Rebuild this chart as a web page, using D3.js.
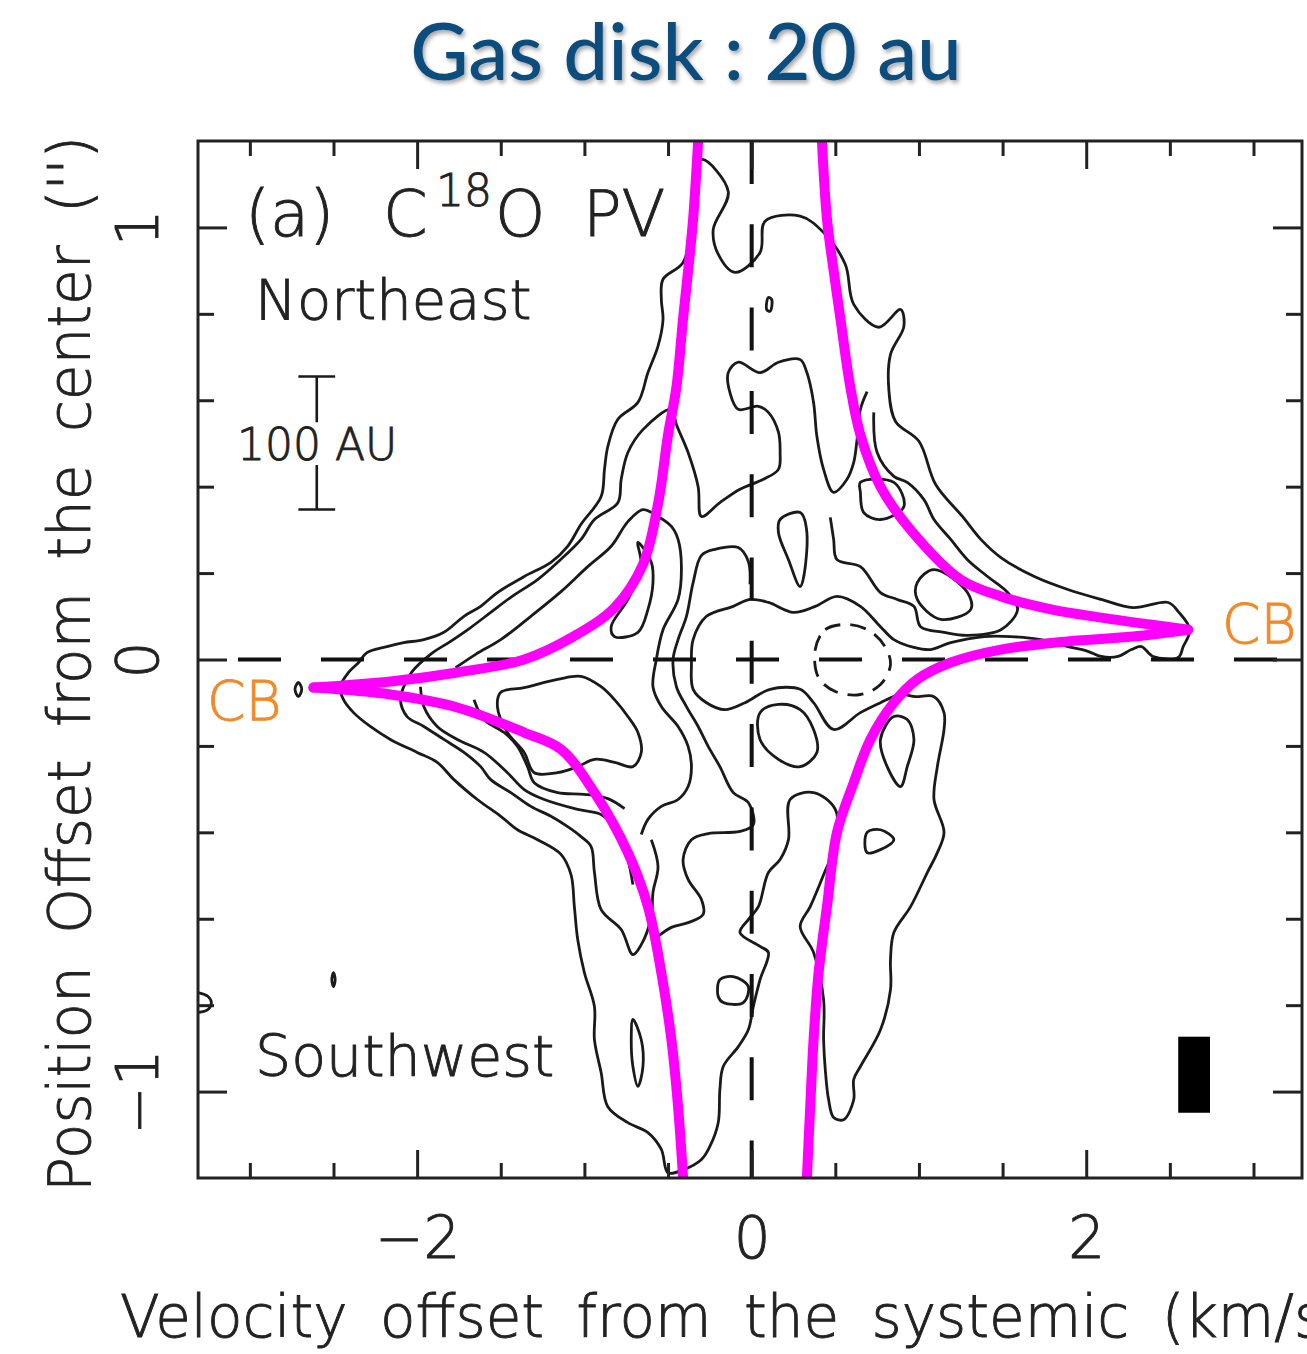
<!DOCTYPE html>
<html>
<head>
<meta charset="utf-8">
<script src="https://cdn.jsdelivr.net/npm/d3@7"></script>
<style>
  body { margin: 0; background: #ffffff; }
  svg { display: block; }
</style>
</head>
<body>
<svg id="chart" width="1307" height="1354"></svg>
<script>
// ---- axis ticks -------------------------------------------------------
const velMajorTicks = [-2, 0, 2];
const velMinorTicks = [-3, -2.5, -1.5, -1, -0.5, 0.5, 1, 1.5, 2.5, 3];
const posMajorTicks = [-1, 0, 1];
const posMinorTicks = [-0.8, -0.6, -0.4, -0.2, 0.2, 0.4, 0.6, 0.8];

// ---- C18O PV contours: [velocity km/s, offset arcsec] -----------------
// lowest contour level, including the low-emission notch around the centre
const contourOuter = [
  [-0.30,1.157],[-0.14,1.083],[-0.23,0.995],[-0.20,0.938],[-0.10,0.896],[0.05,0.942],[0.08,1.014],
  [0.29,1.026],[0.43,0.988],[0.56,0.914],[0.61,0.822],[0.76,0.769],[0.89,0.810],[0.91,0.771],
  [0.83,0.706],[0.82,0.625],[0.86,0.551],[1.00,0.505],[1.10,0.405],[1.26,0.331],[1.37,0.278],
  [1.49,0.236],[1.69,0.192],[1.89,0.162],[2.09,0.139],[2.28,0.120],[2.49,0.132],[2.55,0.111],
  [2.62,0.069],[2.58,0.030],[2.55,0.005],[2.40,0.007],[2.33,0.030],[2.27,0.023],[2.19,0.007],
  [2.09,0.007],[2.01,0.019],[1.89,0.030],[1.73,0.046],[1.55,0.053],[1.39,0.053],[1.19,0.039],
  [1.07,0.023],[0.97,0.028],[0.85,0.046],[0.77,0.076],[0.65,0.123],[0.51,0.146],[0.38,0.123],
  [0.25,0.109],[0.10,0.132],[-0.01,0.139],[-0.11,0.123],[-0.27,0.100],[-0.35,0.046],[-0.36,-0.012],
  [-0.35,-0.069],[-0.27,-0.100],[-0.16,-0.116],[-0.04,-0.100],[0.11,-0.069],[0.29,-0.069],
  [0.37,-0.100],[0.49,-0.162],[0.65,-0.123],[0.77,-0.100],[0.89,-0.081],[0.98,-0.086],[1.09,-0.086],
  [1.15,-0.123],[1.15,-0.162],[1.11,-0.248],[1.09,-0.324],[1.15,-0.400],[1.11,-0.447],[1.05,-0.493],
  [0.95,-0.572],[0.85,-0.632],[0.83,-0.694],[0.83,-0.764],[0.77,-0.857],[0.65,-0.942],[0.61,-0.972],
  [0.61,-1.019],[0.55,-1.065],[0.49,-1.060],[0.46,-1.019],[0.44,-0.949],[0.43,-0.880],[0.43,-0.787],
  [0.37,-0.678],[0.29,-0.618],[0.35,-0.572],[0.43,-0.498],[0.50,-0.428],[0.50,-0.347],[0.37,-0.308],
  [0.23,-0.324],[0.22,-0.417],[0.17,-0.463],[0.10,-0.493],[0.04,-0.572],[-0.02,-0.602],[-0.07,-0.632],
  [0.05,-0.664],[0.10,-0.678],[0.05,-0.741],[0.01,-0.803],[-0.02,-0.857],[-0.08,-0.896],[-0.17,-0.942],
  [-0.19,-0.995],[-0.20,-1.072],[-0.25,-1.127],[-0.30,-1.157],[-0.41,-1.181],[-0.50,-1.188],
  [-0.54,-1.134],[-0.62,-1.095],[-0.74,-1.072],[-0.86,-1.035],[-0.90,-0.956],[-0.94,-0.880],
  [-0.94,-0.803],[-1.00,-0.725],[-1.04,-0.648],[-1.06,-0.572],[-1.08,-0.498],[-1.14,-0.451],
  [-1.28,-0.417],[-1.40,-0.394],[-1.50,-0.363],[-1.64,-0.324],[-1.78,-0.278],[-1.88,-0.238],
  [-2.00,-0.215],[-2.16,-0.185],[-2.28,-0.155],[-2.38,-0.123],[-2.44,-0.093],[-2.46,-0.063],
  [-2.41,-0.030],[-2.35,-0.007],[-2.30,0.016],[-2.18,0.030],[-2.08,0.039],[-1.96,0.046],[-1.84,0.063],
  [-1.72,0.100],[-1.62,0.123],[-1.52,0.155],[-1.36,0.192],[-1.20,0.225],[-1.10,0.262],[-1.02,0.313],
  [-0.90,0.377],[-0.88,0.440],[-0.86,0.493],[-0.80,0.556],[-0.68,0.595],[-0.62,0.664],[-0.56,0.725],
  [-0.53,0.787],[-0.54,0.833],[-0.53,0.880],[-0.41,0.919],[-0.35,1.019]
];

// closed inner contours
const contourIslands = [
  [[0.99,0.178],[1.09,0.208],[1.29,0.155],[1.31,0.116],[1.13,0.093],[0.99,0.139]],
  [[0.65,0.410],[0.85,0.410],[0.91,0.354],[0.77,0.324],[0.67,0.340],[0.65,0.387]],
  [[0.17,0.324],[0.29,0.340],[0.33,0.294],[0.29,0.169],[0.22,0.231],[0.16,0.294]],
  [[0.05,-0.123],[0.16,-0.104],[0.29,-0.116],[0.37,-0.162],[0.39,-0.215],[0.29,-0.248],[0.16,-0.231],[0.05,-0.185]],
  [[0.77,-0.185],[0.85,-0.132],[0.93,-0.139],[0.97,-0.185],[0.93,-0.248],[0.89,-0.294],[0.81,-0.248]],
  [[0.69,-0.400],[0.77,-0.394],[0.85,-0.417],[0.77,-0.440],[0.69,-0.447]],
  [[-0.19,-0.741],[-0.11,-0.734],[-0.02,-0.757],[-0.05,-0.794],[-0.17,-0.794],[-0.20,-0.780]],
  [[-0.71,-0.833],[-0.66,-0.880],[-0.65,-0.942],[-0.68,-0.988],[-0.71,-0.942],[-0.72,-0.880]],
  [[-1.50,-0.076],[-1.36,-0.065],[-1.16,-0.046],[-1.02,-0.039],[-0.90,-0.063],[-0.82,-0.093],
   [-0.74,-0.132],[-0.68,-0.169],[-0.66,-0.215],[-0.71,-0.248],[-0.82,-0.238],[-0.94,-0.231],
   [-1.04,-0.248],[-1.16,-0.262],[-1.30,-0.262],[-1.36,-0.215],[-1.46,-0.169],[-1.52,-0.109]],
  [[-0.68,0.271],[-0.60,0.225],[-0.59,0.178],[-0.62,0.116],[-0.68,0.063],[-0.82,0.053],[-0.84,0.076],[-0.74,0.139],[-0.66,0.215]],
  [[0.10,0.838],[0.12,0.833],[0.11,0.806],[0.09,0.810]],
  [[-2.71,-0.053],[-2.69,-0.069],[-2.71,-0.086],[-2.73,-0.069]],
  [[-2.50,-0.725],[-2.49,-0.741],[-2.50,-0.757],[-2.51,-0.741]]
];

// open contour runs of the higher levels (their ends pass under the curves)
const contourSegments = [
  // second level: lower column, south-west wing, north-east arm and the top lobe
  [[-0.60,-0.417],[-0.56,-0.479],[-0.59,-0.539],[-0.60,-0.595],[-0.66,-0.660],[-0.71,-0.683],
   [-0.78,-0.625],[-0.90,-0.579],[-0.94,-0.493],[-0.96,-0.433],[-1.02,-0.410],[-1.10,-0.387],
   [-1.20,-0.363],[-1.32,-0.340],[-1.44,-0.308],[-1.56,-0.278],[-1.62,-0.248],[-1.72,-0.215],
   [-1.84,-0.185],[-1.96,-0.155],[-2.06,-0.132],[-2.10,-0.093],[-2.08,-0.063],[-2.03,-0.028],
   [-1.92,0.012],[-1.80,0.042],[-1.68,0.074],[-1.56,0.109],[-1.44,0.144],[-1.28,0.185],
   [-1.16,0.225],[-1.02,0.278],[-0.94,0.324],[-0.80,0.363],[-0.78,0.417],[-0.74,0.479],
   [-0.65,0.532],[-0.48,0.579],[-0.45,0.544],[-0.38,0.479],[-0.32,0.400],[-0.30,0.331],
   [-0.19,0.363],[-0.07,0.394],[0.07,0.417],[0.16,0.440],[0.17,0.479],[0.16,0.526],[0.10,0.572],
   [0.04,0.586],[-0.08,0.579],[-0.13,0.618],[-0.14,0.664],[-0.08,0.688],[0.05,0.664],[0.16,0.688],
   [0.29,0.694],[0.33,0.664],[0.37,0.595],[0.39,0.516],[0.43,0.440],[0.49,0.387],[0.57,0.417],
   [0.61,0.456],[0.63,0.509],[0.65,0.579],[0.69,0.620]],
  // second level: north-east wing out to its tip
  [[0.73,0.572],[0.75,0.479],[0.85,0.424],[0.93,0.410],[1.03,0.370],[1.09,0.324],[1.19,0.278],
   [1.29,0.231],[1.41,0.192],[1.53,0.155],[1.59,0.116],[1.49,0.069],[1.29,0.056],[1.15,0.063],
   [1.01,0.076],[0.97,0.123],[0.87,0.139],[0.77,0.155],[0.65,0.215],[0.51,0.231],[0.49,0.278],[0.47,0.329]],
  // south-west wing, inner levels
  [[-1.98,-0.063],[-1.96,-0.109],[-1.88,-0.155],[-1.76,-0.185],[-1.60,-0.215],[-1.46,-0.262],
   [-1.36,-0.301],[-1.24,-0.324],[-1.04,-0.347],[-0.90,-0.359],[-0.80,-0.400],[-0.74,-0.463],[-0.71,-0.521]],
  [[-1.66,-0.093],[-1.60,-0.139],[-1.48,-0.169],[-1.40,-0.201],[-1.34,-0.248],[-1.30,-0.285],
   [-1.16,-0.308],[-1.00,-0.312],[-0.86,-0.322],[-0.76,-0.345]],
  // inner level along the north-west side and down the west of the centre
  [[-1.77,-0.019],[-1.65,0.012],[-1.50,0.046],[-1.32,0.100],[-1.14,0.157],[-0.98,0.215],[-0.84,0.262],
   [-0.74,0.319],[-0.65,0.347],[-0.56,0.331],[-0.48,0.308],[-0.44,0.278],[-0.42,0.215],[-0.44,0.139],
   [-0.53,0.069],[-0.57,0.000],[-0.59,-0.063],[-0.54,-0.109],[-0.44,-0.155],[-0.38,-0.201],
   [-0.36,-0.248],[-0.38,-0.294],[-0.44,-0.324],[-0.54,-0.340],[-0.62,-0.370],[-0.66,-0.405]],
  // lowest level west of the systemic velocity
  [[-0.01,0.174],[-0.02,0.227],[-0.08,0.259],[-0.22,0.255],[-0.30,0.241],[-0.35,0.178],[-0.39,0.100],
   [-0.44,0.046],[-0.47,0.000],[-0.45,-0.063],[-0.39,-0.109],[-0.32,-0.155],[-0.26,-0.201],
   [-0.19,-0.248],[-0.11,-0.308],[-0.02,-0.331],[0.01,-0.382],[-0.07,-0.398],[-0.26,-0.403],
   [-0.36,-0.417],[-0.41,-0.463],[-0.38,-0.509],[-0.30,-0.556],[-0.29,-0.590],[-0.38,-0.609],
   [-0.48,-0.620],[-0.56,-0.641]],
  // small feature at the western edge
  [[-3.31,-0.771],[-3.25,-0.780],[-3.23,-0.794],[-3.25,-0.810],[-3.31,-0.817]]
];

// negative contour, drawn dashed
const contourNegative = [
  [0.38,0.023],[0.44,0.069],[0.58,0.081],[0.71,0.065],[0.80,0.028],[0.83,-0.012],
  [0.77,-0.058],[0.65,-0.081],[0.50,-0.074],[0.40,-0.042]
];

// ---- rotation curves (magenta), each branch runs to its CB cusp ---------
const curveUpperLeft = [
  [-0.32,1.20],[-0.35,1.02],[-0.38,0.90],[-0.41,0.79],[-0.45,0.63],[-0.50,0.52],[-0.56,0.36],
  [-0.65,0.22],[-0.82,0.12],[-1.08,0.05],[-1.36,0.0],[-1.76,-0.030],[-2.16,-0.051],[-2.62,-0.065]
];
const curveLowerLeft = [
  [-2.62,-0.065],[-2.16,-0.081],[-1.76,-0.111],[-1.36,-0.169],[-1.14,-0.208],[-0.94,-0.308],
  [-0.74,-0.447],[-0.62,-0.572],[-0.54,-0.725],[-0.48,-0.880],[-0.44,-1.035],[-0.41,-1.20]
];
const curveUpperRight = [
  [0.42,1.20],[0.45,1.02],[0.49,0.90],[0.53,0.79],[0.59,0.63],[0.65,0.52],[0.77,0.40],[0.95,0.30],
  [1.25,0.185],[1.49,0.146],[1.79,0.116],[2.09,0.097],[2.38,0.081],[2.61,0.069]
];
const curveLowerRight = [
  [2.61,0.069],[2.28,0.053],[1.89,0.042],[1.49,0.023],[1.19,-0.007],[0.99,-0.046],[0.85,-0.100],
  [0.71,-0.185],[0.61,-0.285],[0.51,-0.400],[0.45,-0.572],[0.40,-0.725],[0.37,-0.880],[0.35,-1.035],[0.33,-1.20]
];

// ---- annotations in data units ----------------------------------------
const scaleBar = { vel: -2.60, top: 0.655, bottom: 0.347, gapTop: 0.549, gapBottom: 0.450, halfWidth: 0.11 };
const beam = { vel: 2.645, pos: -0.961, width: 0.19, height: 0.176 };

// ---- layout ------------------------------------------------------------
const plot = { left: 198, right: 1302, top: 141, bottom: 1178 };
const svg = d3.select("#chart");
const x = d3.scaleLinear().domain([-3.31, 3.29]).range([plot.left, plot.right]);
const y = d3.scaleLinear().domain([-1.2, 1.2]).range([plot.bottom, plot.top]);
const plotFont = "'DejaVu Sans', 'Liberation Sans', sans-serif";
const ink = "#1a1a1a";
const textInk = "#222";

// light, monoline lettering for the panel text
function thinText(sel, color) {
  return sel.attr("font-family", plotFont).attr("font-weight", 200)
    .attr("fill", color).attr("stroke", color).attr("stroke-width", 0.9);
}

const defs = svg.append("defs");
defs.append("clipPath").attr("id", "plotClip")
  .append("rect").attr("x", plot.left).attr("y", plot.top)
  .attr("width", plot.right - plot.left).attr("height", plot.bottom - plot.top);
const shadow = defs.append("filter").attr("id", "titleShadow")
  .attr("x", "-10%").attr("y", "-20%").attr("width", "130%").attr("height", "160%");
shadow.append("feDropShadow").attr("dx", 2).attr("dy", 3).attr("stdDeviation", 2.2)
  .attr("flood-color", "#000").attr("flood-opacity", 0.35);

// title
svg.append("text")
  .attr("x", 686).attr("y", 80)
  .attr("text-anchor", "middle")
  .attr("font-family", "Lato, 'Open Sans', sans-serif")
  .attr("font-weight", 500)
  .attr("font-size", 80)
  .attr("fill", "#114d7d")
  .attr("filter", "url(#titleShadow)")
  .text("Gas disk : 20 au");

const plotG = svg.append("g").attr("clip-path", "url(#plotClip)");

// contours
const closedLine = d3.line().x(d => x(d[0])).y(d => y(d[1])).curve(d3.curveCatmullRomClosed.alpha(0.5));
const openLine = d3.line().x(d => x(d[0])).y(d => y(d[1])).curve(d3.curveCatmullRom.alpha(0.5));
const cw = 2.8;

plotG.append("path").datum(contourOuter)
  .attr("d", closedLine).attr("fill", "none").attr("stroke", ink).attr("stroke-width", cw);
plotG.selectAll("path.island").data(contourIslands).join("path").attr("class", "island")
  .attr("d", closedLine).attr("fill", "none").attr("stroke", ink).attr("stroke-width", cw);
plotG.selectAll("path.segment").data(contourSegments).join("path").attr("class", "segment")
  .attr("d", openLine).attr("fill", "none").attr("stroke", ink).attr("stroke-width", cw);
plotG.append("path").datum(contourNegative)
  .attr("d", closedLine).attr("fill", "none").attr("stroke", ink).attr("stroke-width", cw)
  .attr("stroke-dasharray", "16 10");

// systemic velocity and centre position reference lines
plotG.append("line")
  .attr("x1", x(-3.31)).attr("x2", x(3.29)).attr("y1", y(0)).attr("y2", y(0))
  .attr("stroke", "#111").attr("stroke-width", 4)
  .attr("stroke-dasharray", "43 40").attr("stroke-dashoffset", 43);
plotG.append("line")
  .attr("x1", x(0)).attr("x2", x(0)).attr("y1", y(1.2)).attr("y2", y(-1.2))
  .attr("stroke", "#111").attr("stroke-width", 4)
  .attr("stroke-dasharray", "43 40.3");

// beam
plotG.append("rect")
  .attr("x", x(beam.vel - beam.width / 2)).attr("y", y(beam.pos + beam.height / 2))
  .attr("width", x(beam.vel + beam.width / 2) - x(beam.vel - beam.width / 2))
  .attr("height", y(beam.pos - beam.height / 2) - y(beam.pos + beam.height / 2))
  .attr("fill", "#000");

// 100 AU scale bar
const sb = svg.append("g").attr("stroke", ink).attr("stroke-width", 2.6);
sb.append("line").attr("x1", x(scaleBar.vel)).attr("x2", x(scaleBar.vel)).attr("y1", y(scaleBar.top)).attr("y2", y(scaleBar.gapTop));
sb.append("line").attr("x1", x(scaleBar.vel)).attr("x2", x(scaleBar.vel)).attr("y1", y(scaleBar.gapBottom)).attr("y2", y(scaleBar.bottom));
sb.append("line").attr("x1", x(scaleBar.vel - scaleBar.halfWidth)).attr("x2", x(scaleBar.vel + scaleBar.halfWidth)).attr("y1", y(scaleBar.top)).attr("y2", y(scaleBar.top));
sb.append("line").attr("x1", x(scaleBar.vel - scaleBar.halfWidth)).attr("x2", x(scaleBar.vel + scaleBar.halfWidth)).attr("y1", y(scaleBar.bottom)).attr("y2", y(scaleBar.bottom));

// magenta rotation curves
const curveLine = d3.line().x(d => x(d[0])).y(d => y(d[1])).curve(d3.curveCatmullRom.alpha(0.5));
plotG.selectAll("path.rot").data([curveUpperLeft, curveLowerLeft, curveUpperRight, curveLowerRight])
  .join("path").attr("class", "rot")
  .attr("d", curveLine).attr("fill", "none")
  .attr("stroke", "#ff00ff").attr("stroke-width", 10).attr("stroke-linecap", "round").attr("stroke-linejoin", "round");

// frame
svg.append("rect")
  .attr("x", plot.left).attr("y", plot.top)
  .attr("width", plot.right - plot.left).attr("height", plot.bottom - plot.top)
  .attr("fill", "none").attr("stroke", "#222").attr("stroke-width", 3);

// inward ticks on all four sides
function ticks(axisGen, values, size, transform) {
  const g = svg.append("g").attr("transform", transform)
    .call(axisGen.tickValues(values).tickSize(size).tickFormat(""));
  g.select(".domain").remove();
  g.selectAll(".tick line").attr("stroke", "#222").attr("stroke-width", 3);
}
ticks(d3.axisTop(x), velMajorTicks, 28, `translate(0,${plot.bottom})`);
ticks(d3.axisTop(x), velMinorTicks, 15, `translate(0,${plot.bottom})`);
ticks(d3.axisBottom(x), velMajorTicks, 28, `translate(0,${plot.top})`);
ticks(d3.axisBottom(x), velMinorTicks, 15, `translate(0,${plot.top})`);
ticks(d3.axisRight(y), posMajorTicks, 29, `translate(${plot.left},0)`);
ticks(d3.axisRight(y), posMinorTicks, 16, `translate(${plot.left},0)`);
ticks(d3.axisLeft(y), posMajorTicks, 29, `translate(${plot.right},0)`);
ticks(d3.axisLeft(y), posMinorTicks, 16, `translate(${plot.right},0)`);

const fmt = d => (d < 0 ? "\u2212" : "") + Math.abs(d);

// tick labels
const xl = svg.append("g").attr("transform", `translate(0,${plot.bottom})`)
  .call(d3.axisBottom(x).tickValues(velMajorTicks).tickSize(0).tickFormat(fmt));
xl.select(".domain").remove();
thinText(xl.selectAll("text").attr("y", 80).attr("dy", null).attr("font-size", 58), textInk);

const yl = svg.append("g").attr("transform", `translate(${plot.left},0)`)
  .call(d3.axisLeft(y).tickValues(posMajorTicks).tickSize(0).tickFormat(fmt));
yl.select(".domain").remove();
thinText(yl.selectAll("text")
  .attr("x", null).attr("dy", null)
  .attr("text-anchor", "middle")
  .attr("transform", "translate(-40,0) rotate(-90)")
  .attr("font-size", 58), textInk);

// axis titles
thinText(svg.append("text").attr("x", 120).attr("y", 1337)
  .attr("font-size", 58).attr("word-spacing", 14), textInk)
  .text("Velocity offset from the systemic (km/s)");
thinText(svg.append("text").attr("transform", "translate(90,1192) rotate(-90)")
  .attr("font-size", 58).attr("word-spacing", 14), textInk)
  .text("Position Offset from the center ('')");

// in-panel labels
const lab = thinText(svg.append("g"), textInk);
const head = lab.append("text").attr("y", 236).attr("font-size", 64);
head.append("tspan").attr("x", 245).text("(a)");
head.append("tspan").attr("x", 383).text("C");
head.append("tspan").attr("x", 436).attr("dy", -30).attr("font-size", 44).text("18");
head.append("tspan").attr("x", 495).attr("dy", 30).text("O");
head.append("tspan").attr("x", 583).text("PV");
lab.append("text").attr("x", 255).attr("y", 319).attr("font-size", 56).text("Northeast");
lab.append("text").attr("x", 237).attr("y", 460).attr("font-size", 44).text("100 AU");
lab.append("text").attr("x", 255).attr("y", 1076).attr("font-size", 57).text("Southwest");

const cb = thinText(svg.append("g"), "#f08a2a").attr("font-size", 55);
cb.append("text").attr("x", 207).attr("y", 720).text("CB");
cb.append("text").attr("x", 1222).attr("y", 643).text("CB");
</script>
</body>
</html>
